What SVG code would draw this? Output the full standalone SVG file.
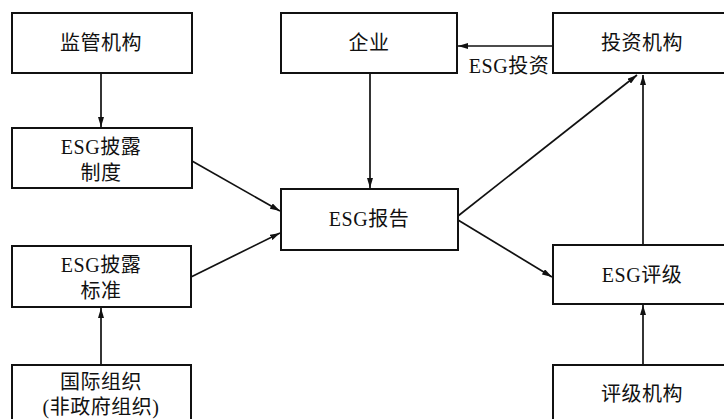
<svg xmlns="http://www.w3.org/2000/svg" width="724" height="419" viewBox="0 0 724 419">
<style>
.box{fill:#fff;stroke:#111;stroke-width:2}
.t{font-family:"Liberation Serif","Noto Sans CJK SC",serif;font-size:20px;letter-spacing:0.5px;fill:#111;text-anchor:middle;dominant-baseline:central}
.c{stroke:#111;stroke-width:1.7;fill:none;marker-end:url(#ah)}
</style>
<defs>
<marker id="ah" viewBox="0 0 10 6" refX="10" refY="3" markerWidth="10" markerHeight="6" markerUnits="userSpaceOnUse" orient="auto">
<path d="M0,0 L10,3 L0,6 Z" fill="#111"/>
</marker>
</defs>
<rect width="724" height="419" fill="#fff"/>
<g id="connectors">
<line class="c" x1="101" y1="73" x2="101" y2="127"/>
<line class="c" x1="101" y1="365" x2="101" y2="308" stroke-width="2.2"/>
<line class="c" x1="192" y1="161" x2="280" y2="211"/>
<line class="c" x1="191" y1="277" x2="280" y2="233"/>
<line class="c" x1="370" y1="73" x2="370" y2="188" stroke-width="2.2"/>
<line class="c" x1="553" y1="46" x2="458" y2="46"/>
<line class="c" x1="458" y1="216" x2="637" y2="75"/>
<line class="c" x1="458" y1="220" x2="552" y2="277"/>
<line class="c" x1="643" y1="245" x2="643" y2="75"/>
<line class="c" x1="643" y1="365" x2="643" y2="305"/>
<text class="t" x="509" y="66" font-size="19">ESG投资</text>
</g>
<g id="n1"><rect class="box" x="12" y="13" width="180" height="60"/><text class="t" x="101" y="43">监管机构</text></g>
<g id="n2"><rect class="box" x="12" y="128" width="180" height="60"/><text class="t" x="101" y="147">ESG披露</text><text class="t" x="101" y="173">制度</text></g>
<g id="n3"><rect class="box" x="12" y="246" width="179" height="61"/><text class="t" x="101" y="265">ESG披露</text><text class="t" x="101" y="291">标准</text></g>
<g id="n4"><rect class="box" x="12" y="365" width="179" height="70"/><text class="t" x="101" y="382">国际组织</text><text class="t" x="101" y="407">(非政府组织)</text></g>
<g id="n5"><rect class="box" x="281" y="13" width="176" height="60"/><text class="t" x="369" y="43">企业</text></g>
<g id="n6"><rect class="box" x="281" y="189" width="177" height="61"/><text class="t" x="369" y="219">ESG报告</text></g>
<g id="n7"><rect class="box" x="553" y="13" width="180" height="60"/><text class="t" x="642" y="43">投资机构</text></g>
<g id="n8"><rect class="box" x="553" y="245" width="180" height="59"/><text class="t" x="642" y="275">ESG评级</text></g>
<g id="n9"><rect class="box" x="553" y="365" width="180" height="70"/><text class="t" x="642" y="394">评级机构</text></g>
</svg>
